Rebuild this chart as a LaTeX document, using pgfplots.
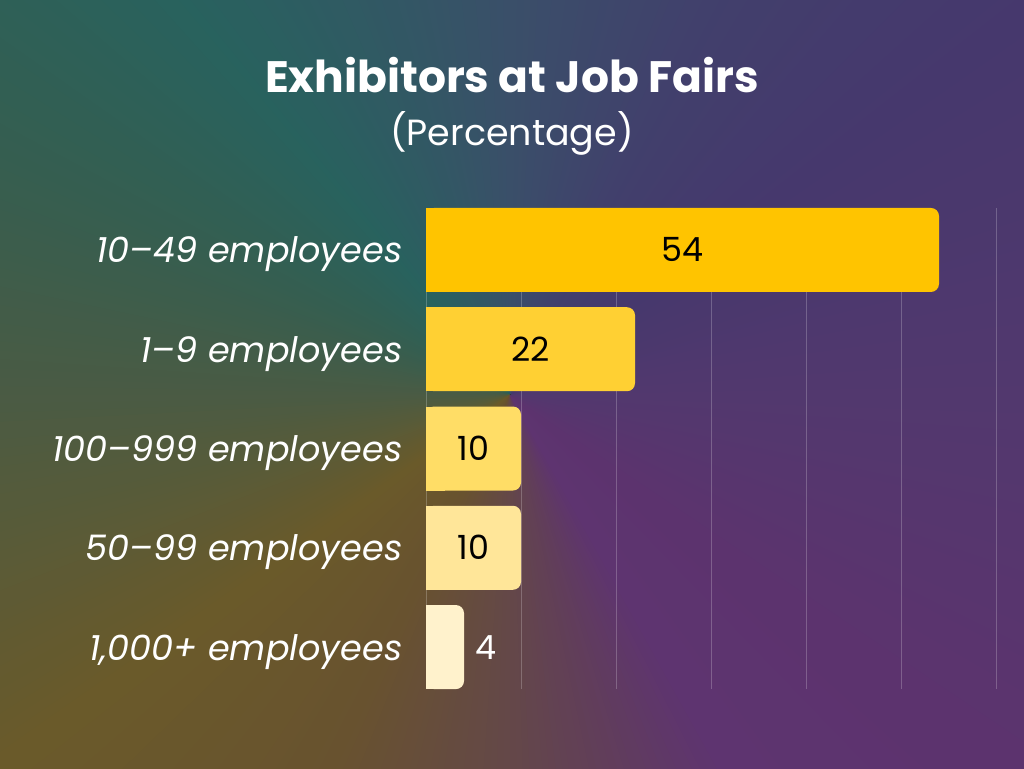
\documentclass[border=0pt]{standalone}
\usepackage{fontspec}
\setmainfont{Poppins}
\usepackage{pgfplots}
\pgfplotsset{compat=1.18}

% background stops (conic gradient round one point)
\definecolor{g0}{HTML}{52386E}
\definecolor{g1}{HTML}{46386D}
\definecolor{g2}{HTML}{41406C}
\definecolor{g3}{HTML}{3A4F69}
\definecolor{g4}{HTML}{28625E}
\definecolor{g5}{HTML}{355E50}
\definecolor{g6}{HTML}{4A5B44}
\definecolor{g7}{HTML}{6A5A2A}
\definecolor{g8}{HTML}{68522F}
\definecolor{g9}{HTML}{644848}
\definecolor{g10}{HTML}{613E5A}
\definecolor{g11}{HTML}{5E3470}
\definecolor{g12}{HTML}{5C336E}

% bar colours
\definecolor{b1}{HTML}{FFC400}
\definecolor{b2}{HTML}{FFD033}
\definecolor{b3}{HTML}{FFDD66}
\definecolor{b4}{HTML}{FFE699}
\definecolor{b5}{HTML}{FFF2CC}

\newcommand\labfont{\itshape\fontsize{26.3}{31}\selectfont}
\newcommand\valfont{\fontsize{25}{30}\selectfont}

\begin{document}
\begin{tikzpicture}
\useasboundingbox (0pt,0pt) rectangle (768pt,576pt);

\begin{scope}[x=0.75pt,y=0.75pt]
  \clip (0,0) rectangle (1024,768);
  \fill[g10] (0,0) rectangle (1024,768);
  \foreach \aa/\ab/\ca/\cb in {0/37/g0/g1, 37/64/g1/g2, 64/90/g2/g3, 90/130/g3/g4,
      130/155/g4/g5, 155/180/g5/g6, 180/216/g6/g7, 216/245/g7/g8, 245/270/g8/g9,
      270/285/g9/g10, 285/300/g10/g11, 300/324/g11/g12, 324/360/g12/g0}{
    \pgfmathtruncatemacro\n{\ab-\aa-1}
    \foreach \k in {0,...,\n}{
      \pgfmathsetmacro\ang{\aa+\k}
      \pgfmathtruncatemacro\p{100*\k/(\ab-\aa)}
      \fill[\cb!\p!\ca] (510,373) -- +(\ang-1:1600) -- +(\ang+2:1600) -- cycle;
    }
  }
\end{scope}

\node[anchor=base, text=white, font=\bfseries\fontsize{33}{40}\selectfont]
  at (384pt,506.25pt) {Exhibitors at Job Fairs};
\node[anchor=base, text=white, font=\fontsize{27.3}{33}\selectfont]
  at (384pt,466.5pt) {(Percentage)};

\begin{axis}[
  at={(319.5pt,59.25pt)}, anchor=south west,
  scale only axis, width=427.5pt, height=360.75pt,
  xmin=0, xmax=60, ymin=-0.4226, ymax=4.4226, y dir=reverse,
  xtick={0,10,...,60}, xticklabels={},
  xmajorgrids, grid style={white, opacity=0.22, line width=0.75pt},
  ytick={0,...,4},
  yticklabels={10–49 employees, 1–9 employees, 100–999 employees, 50–99 employees, {1,000+ employees}},
  yticklabel style={font=\labfont, text=white, anchor=base east, inner sep=0pt,
    yshift=-9.75pt, xshift=-17.5pt},
  major tick length=0pt, axis line style={draw=none},
  clip=false,
  /pgf/number format/assume math mode=true,
  every axis plot/.append style={bar shift=0pt, bar width=63pt, draw=none},
]
  % bars, rounded at the end
  \addplot[xbar, fill=b1, rounded corners=6pt] coordinates {(54,0)};
  \addplot[xbar, fill=b2, rounded corners=6pt] coordinates {(22,1)};
  \addplot[xbar, fill=b3, rounded corners=6pt] coordinates {(10,2)};
  \addplot[xbar, fill=b4, rounded corners=6pt] coordinates {(10,3)};
  \addplot[xbar, fill=b5, rounded corners=6pt] coordinates {(4,4)};
  % square the base end
  \addplot[xbar, fill=b1] coordinates {(2,0)};
  \addplot[xbar, fill=b2] coordinates {(2,1)};
  \addplot[xbar, fill=b3] coordinates {(2,2)};
  \addplot[xbar, fill=b4] coordinates {(2,3)};
  \addplot[xbar, fill=b5] coordinates {(2,4)};
  % values
  \addplot[draw=none, no marks, point meta=explicit, x filter/.expression={x/2},
    nodes near coords={\pgfmathprintnumber{\pgfplotspointmeta}},
    nodes near coords style={font=\valfont, text=black, anchor=base, inner sep=0pt, yshift=-9pt}]
    coordinates {(54,0) [54] (22,1) [22] (10,2) [10] (10,3) [10]};
  \addplot[draw=none, no marks, point meta=explicit,
    nodes near coords={\pgfmathprintnumber{\pgfplotspointmeta}},
    nodes near coords style={font=\valfont, text=white, anchor=base west, inner sep=0pt,
      xshift=8.25pt, yshift=-9pt}]
    coordinates {(4,4) [4]};
\end{axis}
\end{tikzpicture}
\end{document}
